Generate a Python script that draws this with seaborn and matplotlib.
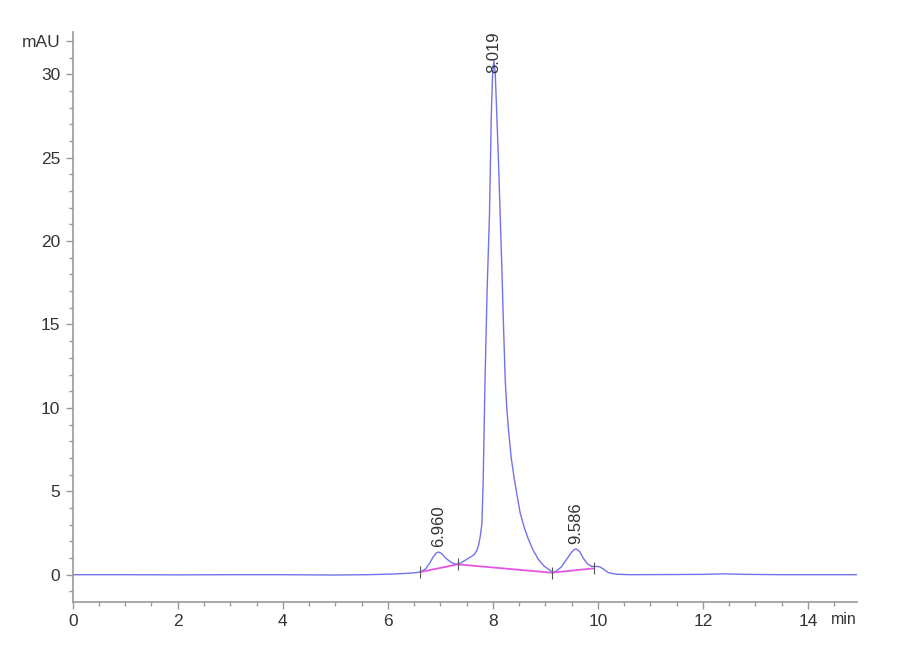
import numpy as np
import pandas as pd
import matplotlib
matplotlib.use("Agg")
import matplotlib.pyplot as plt
import seaborn as sns
from matplotlib.ticker import MultipleLocator, FixedLocator
from matplotlib.transforms import blended_transform_factory

# ---- data ----
time_min = [0.0, 1.0, 2.0, 3.0, 4.0, 5.0, 5.6, 6.0, 6.3, 6.5, 6.62, 6.72, 6.8, 6.86,
            6.92, 6.96, 7.02, 7.1, 7.2, 7.3, 7.4, 7.5, 7.6, 7.66, 7.70, 7.73, 7.76,
            7.79, 7.815, 7.85, 7.89, 7.935, 7.97, 7.995, 8.019, 8.045, 8.076, 8.11,
            8.14, 8.17, 8.20, 8.235, 8.265, 8.30, 8.35, 8.41, 8.47, 8.52, 8.60,
            8.68, 8.77, 8.87, 8.98, 9.09, 9.14, 9.2, 9.3, 9.4, 9.5, 9.55, 9.586,
            9.65, 9.72, 9.8, 9.88, 9.95, 10.03, 10.1, 10.2, 10.35, 10.6, 11.5,
            12.0, 12.4, 12.8, 13.5, 14.93]
signal_mau = [0.0, 0.0, -0.01, 0.0, 0.0, -0.02, 0.0, 0.03, 0.07, 0.11, 0.16, 0.35,
              0.7, 1.05, 1.3, 1.36, 1.28, 1.0, 0.75, 0.62, 0.72, 0.92, 1.1, 1.26,
              1.5, 1.8, 2.3, 3.0, 5.5, 11.5, 17.0, 21.5, 27.5, 30.0, 30.8, 30.1,
              27.5, 24.5, 21.5, 18.5, 15.2, 11.7, 10.0, 8.6, 7.0, 5.7, 4.6, 3.7,
              2.8, 2.1, 1.45, 0.9, 0.5, 0.26, 0.14, 0.2, 0.45, 0.9, 1.35, 1.5,
              1.54, 1.4, 1.0, 0.65, 0.5, 0.5, 0.48, 0.35, 0.12, 0.03, 0.0, 0.01,
              0.02, 0.05, 0.02, 0.0, 0.0]

base_t = [6.62, 7.33, 9.12, 9.92]
base_y = [0.16, 0.62, 0.12, 0.38]

peak_rt = [6.960, 8.019, 9.586]
peak_label_y = [1.68, 30.1, 1.82]
peak_labels = ["6.960", "8.019", "9.586"]

ytick_vals = [0, 5, 10, 15, 20, 25, 30, 32]
ytick_labels = ["0", "5", "10", "15", "20", "25", "30", "mAU"]
xtick_vals = [0, 2, 4, 6, 8, 10, 12, 14]
xtick_labels = ["0", "2", "4", "6", "8", "10", "12", "14"]

df = pd.DataFrame({"time": time_min, "signal": signal_mau})
df_base = pd.DataFrame({"time": base_t, "signal": base_y})

sns.set_theme(style="white")
plt.rcParams["font.family"] = ["Liberation Sans", "DejaVu Sans"]

fig = plt.figure(figsize=(9, 6.6), dpi=100)
ax = fig.add_axes([0.0808, 0.0883, 0.8712, 0.8637])

sns.lineplot(data=df, x="time", y="signal", ax=ax, color="#7272ee", linewidth=1.0,
             estimator=None, sort=False)
sns.lineplot(data=df_base, x="time", y="signal", ax=ax, color="#e455e4", linewidth=1.3,
             estimator=None, sort=False)
ax.scatter(base_t, base_y, marker="|", s=70, color="#555555", linewidths=0.8, zorder=3)

for rt, ly, lab in zip(peak_rt, peak_label_y, peak_labels):
    ax.text(rt, ly, lab, rotation=90, ha="center", va="bottom", fontsize=12,
            color="#333333")

ax.set_xlim(0, 14.93)
ax.set_ylim(-1.62, 32.55)
ax.set_xlabel("")
ax.set_ylabel("")

ax.xaxis.set_major_locator(FixedLocator(xtick_vals))
ax.set_xticklabels(xtick_labels)
ax.xaxis.set_minor_locator(MultipleLocator(0.5))
ax.yaxis.set_major_locator(FixedLocator(ytick_vals))
ax.set_yticklabels(ytick_labels)
ax.yaxis.set_minor_locator(MultipleLocator(1))

for side in ["top", "right"]:
    ax.spines[side].set_visible(False)
for side in ["left", "bottom"]:
    ax.spines[side].set_color("#999999")
    ax.spines[side].set_linewidth(1.2)

ax.tick_params(axis="both", which="major", direction="out", length=5, width=1,
               color="#999999", labelsize=12.5, labelcolor="#333333", pad=4,
               bottom=True, left=True)
ax.tick_params(axis="y", which="major", labelsize=12.5)
ax.tick_params(axis="both", which="minor", direction="out", length=3, width=1,
               color="#999999", bottom=True, left=True)

trans = blended_transform_factory(ax.transAxes, ax.transAxes)
ax.text(1.0, -0.032, "min", transform=trans, ha="right", va="center",
        fontsize=11.5, color="#333333")

fig.savefig("out.png", dpi=100, facecolor="white")
